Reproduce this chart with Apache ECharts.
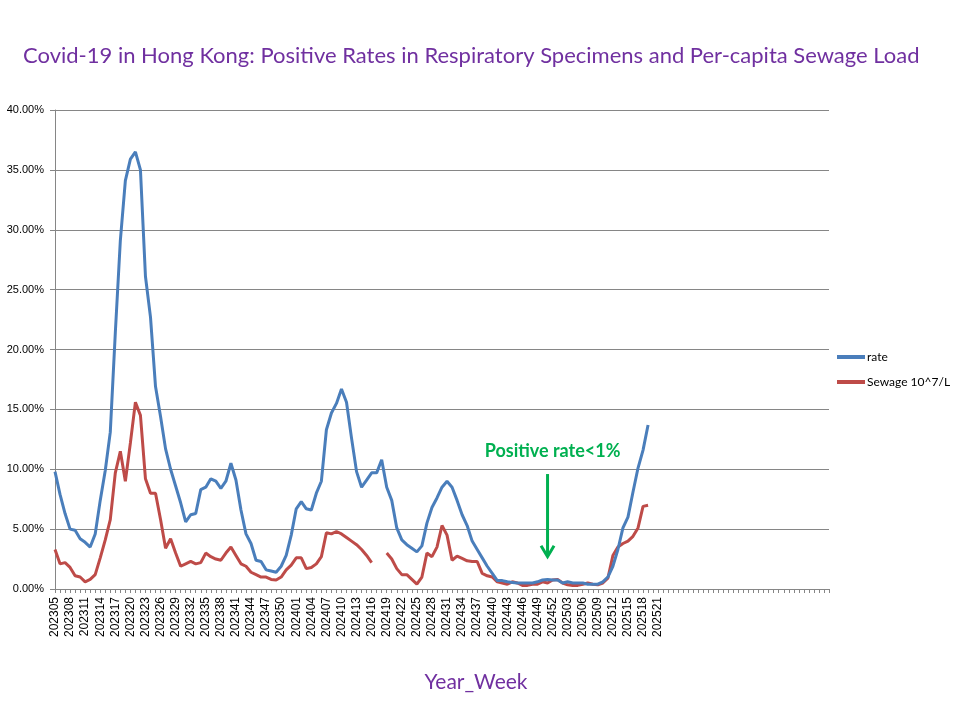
<!DOCTYPE html>
<html>
<head>
<meta charset="utf-8">
<script src="https://cdn.jsdelivr.net/npm/echarts@6/dist/echarts.min.js"></script>
<style>
    html, body { margin: 0; padding: 0; background: #fff; }
    #main { width: 960px; height: 720px; }
</style>
</head>
<body>
<div id="main"></div>
<script>
// week labels, 202305 .. 202521
const weeks = [
    '202305', '202306', '202307', '202308', '202309', '202310', '202311', '202312', '202313', '202314',
    '202315', '202316', '202317', '202318', '202319', '202320', '202321', '202322', '202323', '202324',
    '202325', '202326', '202327', '202328', '202329', '202330', '202331', '202332', '202333', '202334',
    '202335', '202336', '202337', '202338', '202339', '202340', '202341', '202342', '202343', '202344',
    '202345', '202346', '202347', '202348', '202349', '202350', '202351', '202352',
    '202401', '202402', '202403', '202404', '202405', '202406', '202407', '202408', '202409', '202410',
    '202411', '202412', '202413', '202414', '202415', '202416', '202417', '202418', '202419', '202420',
    '202421', '202422', '202423', '202424', '202425', '202426', '202427', '202428', '202429', '202430',
    '202431', '202432', '202433', '202434', '202435', '202436', '202437', '202438', '202439', '202440',
    '202441', '202442', '202443', '202444', '202445', '202446', '202447', '202448', '202449', '202450',
    '202451', '202452',
    '202501', '202502', '202503', '202504', '202505', '202506', '202507', '202508', '202509', '202510',
    '202511', '202512', '202513', '202514', '202515', '202516', '202517', '202518', '202519', '202520',
    '202521'
];

// positive rate (%)
const rate = [
    9.8, 7.9, 6.3, 5.0, 4.9, 4.2, 3.9, 3.5, 4.6, 7.4,
    9.9, 13.1, 21.4, 29.1, 34.1, 35.9, 36.5, 35.0, 26.1, 22.7,
    16.9, 14.4, 11.7, 10.0, 8.6, 7.2, 5.6, 6.2, 6.3, 8.3,
    8.5, 9.2, 9.0, 8.4, 9.0, 10.5, 9.1, 6.6, 4.6, 3.8,
    2.4, 2.3, 1.6, 1.5, 1.4, 1.9, 2.8, 4.5,
    6.7, 7.3, 6.7, 6.6, 8.0, 9.0, 13.3, 14.7, 15.5, 16.7,
    15.6, 12.6, 9.8, 8.5, 9.1, 9.7, 9.7, 10.8, 8.5, 7.4,
    5.1, 4.1, 3.7, 3.4, 3.1, 3.6, 5.5, 6.8, 7.6, 8.5,
    9.0, 8.5, 7.4, 6.2, 5.3, 4.0, 3.3, 2.6, 1.9, 1.3,
    0.7, 0.7, 0.6, 0.55, 0.5, 0.5, 0.5, 0.5, 0.6, 0.75,
    0.8, 0.75,
    0.75, 0.5, 0.6, 0.5, 0.5, 0.5, 0.4, 0.4, 0.4, 0.6,
    1.0, 1.9, 3.3, 5.1, 6.0, 8.1, 10.1, 11.6, 13.7, null,
    null
];

// sewage load (10^7 copies/L), plotted on the same axis
const sewage = [
    3.3, 2.1, 2.2, 1.8, 1.1, 1.0, 0.6, 0.8, 1.2, 2.6,
    4.1, 5.8, 9.7, 11.5, 9.0, 12.2, 15.6, 14.5, 9.2, 8.0,
    8.0, 5.8, 3.4, 4.2, 3.0, 1.9, 2.1, 2.3, 2.1, 2.2,
    3.0, 2.7, 2.5, 2.4, 3.0, 3.5, 2.8, 2.1, 1.9, 1.4,
    1.2, 1.0, 1.0, 0.8, 0.75, 1.0, 1.6, 2.0,
    2.6, 2.6, 1.7, 1.8, 2.1, 2.7, 4.7, 4.6, 4.8, 4.6,
    4.3, 4.0, 3.7, 3.3, 2.8, 2.2, null, null, 3.0, 2.5,
    1.7, 1.2, 1.2, 0.8, 0.4, 1.0, 3.0, 2.7, 3.5, 5.3,
    4.5, 2.4, 2.75, 2.55, 2.35, 2.3, 2.3, 1.3, 1.1, 1.0,
    0.6, 0.5, 0.4, 0.6, 0.5, 0.3, 0.3, 0.4, 0.4, 0.6,
    0.5, 0.75,
    0.8, 0.5, 0.35, 0.3, 0.3, 0.4, 0.5, 0.4, 0.35, 0.5,
    0.9, 2.8, 3.5, 3.8, 4.0, 4.4, 5.1, 6.9, 7.0, null,
    null
];

const seriesNames = ['rate', 'Sewage 10^7/L'];
const yTicks = [0, 5, 10, 15, 20, 25, 30, 35, 40];

// the spreadsheet axis runs on past the data with blank rows
let categories = weeks.slice();
while (categories.length < 155) categories.push('');

let myChart = echarts.init(document.getElementById('main'));

const purple = '#7030A0';
const green = '#00B050';
const grey = '#868686';

let option = {
    backgroundColor: '#fff',
    animation: false,
    title: {
        text: 'Covid-19 in Hong Kong: Positive Rates in Respiratory Specimens and Per-capita Sewage Load',
        left: 18,
        top: 40,
        textStyle: {
            color: purple,
            fontFamily: 'Lato',
            fontWeight: 'normal',
            fontSize: 22
        }
    },
    legend: {
        orient: 'vertical',
        left: 837,
        top: 351,
        padding: 0,
        itemWidth: 28,
        itemHeight: 4,
        itemGap: 13,
        icon: 'rect',
        textStyle: { fontFamily: 'Lato', fontSize: 12, color: '#000', padding: [0, 0, 0, -3] },
        data: seriesNames
    },
    grid: {
        left: 55,
        right: 131,
        top: 110,
        bottom: 131
    },
    xAxis: {
        type: 'category',
        data: categories,
        boundaryGap: false,
        axisLine: { lineStyle: { color: grey, width: 1 } },
        axisTick: { interval: 0, length: 4, lineStyle: { color: grey } },
        axisLabel: {
            interval: 2,
            rotate: 90,
            margin: 8,
            fontFamily: 'Liberation Sans',
            fontSize: 12,
            color: '#000'
        },
        splitLine: { show: false }
    },
    yAxis: {
        type: 'value',
        min: yTicks[0],
        max: yTicks[yTicks.length - 1],
        interval: yTicks[1] - yTicks[0],
        axisLine: { show: true, lineStyle: { color: grey, width: 1 } },
        axisTick: { show: true, length: 5, lineStyle: { color: grey } },
        axisLabel: {
            margin: 11,
            fontFamily: 'Liberation Sans',
            fontSize: 11,
            color: '#000',
            formatter: function (v) { return v.toFixed(2) + '%'; }
        },
        splitLine: { lineStyle: { color: grey, width: 1 } }
    },
    series: [
        {
            name: seriesNames[0],
            type: 'line',
            data: rate,
            showSymbol: false,
            connectNulls: false,
            lineStyle: { color: '#4A7EBB', width: 3 },
            itemStyle: { color: '#4A7EBB' },
            z: 3
        },
        {
            name: seriesNames[1],
            type: 'line',
            data: sewage,
            showSymbol: false,
            connectNulls: false,
            lineStyle: { color: '#BE4B48', width: 3 },
            itemStyle: { color: '#BE4B48' },
            z: 2
        }
    ]
};

myChart.setOption(option);

// annotation: arrow pointing down at the <1% stretch, placed from data coords
const toPx = function (pt) {
    return myChart.convertToPixel({ xAxisIndex: 0, yAxisIndex: 0 }, pt);
};
const arrowTop = toPx([98, 9.6]);
const arrowTip = toPx([98, 2.7]);
const labelAt = toPx([99, 11.5]);

myChart.setOption({
    graphic: [
        {
            type: 'text',
            x: labelAt[0],
            y: labelAt[1],
            style: {
                text: 'Positive rate<1%',
                fill: green,
                font: 'bold 18px Lato',
                textAlign: 'center',
                textVerticalAlign: 'middle'
            }
        },
        {
            type: 'line',
            shape: { x1: arrowTop[0], y1: arrowTop[1], x2: arrowTip[0], y2: arrowTip[1] - 1 },
            style: { stroke: green, lineWidth: 3 }
        },
        {
            type: 'polyline',
            shape: {
                points: [
                    [arrowTip[0] - 6.5, arrowTip[1] - 11],
                    [arrowTip[0], arrowTip[1]],
                    [arrowTip[0] + 6.5, arrowTip[1] - 11]
                ]
            },
            style: { stroke: green, lineWidth: 3, fill: null }
        },
        {
            type: 'text',
            x: 476,
            y: 682,
            style: {
                text: 'Year_Week',
                fill: purple,
                font: '21px Lato',
                textAlign: 'center',
                textVerticalAlign: 'middle'
            }
        }
    ]
});
</script>
</body>
</html>
